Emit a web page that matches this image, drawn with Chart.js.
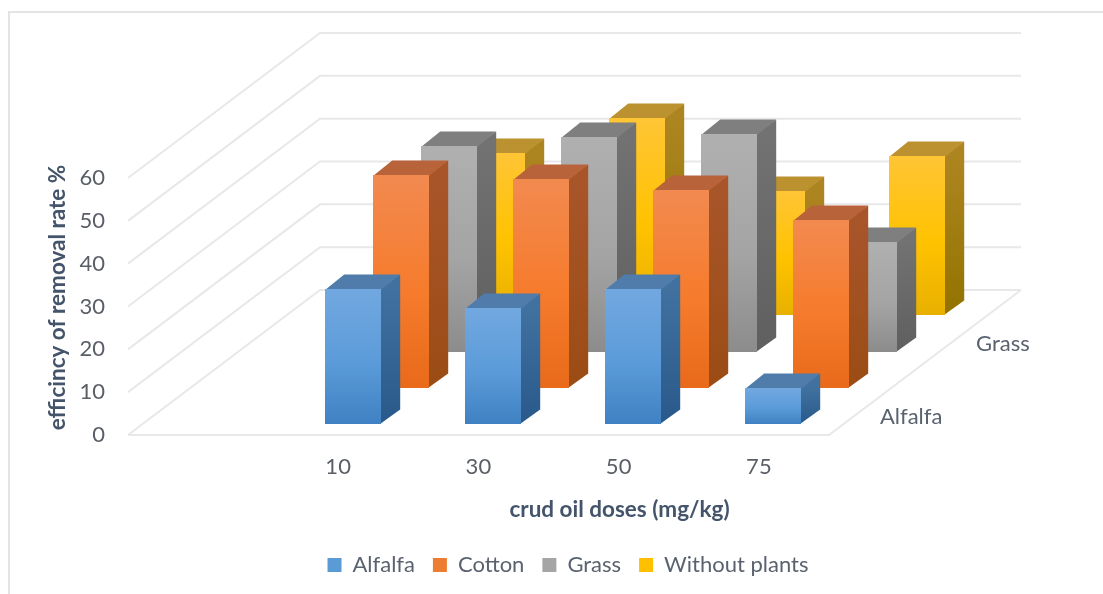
<!DOCTYPE html>
<html>
<head>
<meta charset="utf-8">
<style>html,body{margin:0;padding:0;background:#fff}canvas{display:block}</style>
<script src="https://cdn.jsdelivr.net/npm/chart.js@4"></script>
</head>
<body>
<canvas id="c" width="1103" height="594"></canvas>
<script>
const doses = ['10', '30', '50', '75'];
const alfalfa = [31.5, 27.1, 31.5, 8.4];
const cotton = [49.7, 48.8, 46.2, 39.2];
const grass = [47.9, 50, 50.7, 25.7];
const withoutPlants = [37.8, 46, 29, 37.1];
const depthLabels = ['Alfalfa', '', 'Grass', ''];
const yTicks = [0, 10, 20, 30, 40, 50, 60];

const FONT = 'Lato';
const DEPTH_X = 192, DEPTH_Y = 145, SERIES_COUNT = 4;
const WALL_LEFT = 128;

const palette = [
  {flat:'#5b9bd5', front:['#72a8e0','#5b9bd9','#3f81c2'], side:['#41719f','#28598a'], top:'#4f7cab'},
  {flat:'#ed7d31', front:['#f28a50','#f67b2c','#e86a1a'], side:['#a8552a','#9b4c14'], top:'#b9633a'},
  {flat:'#a5a5a5', front:['#b0b0b0','#a4a4a4','#8c8c8c'], side:['#727272','#5f5f5f'], top:'#7f7f7f'},
  {flat:'#ffc000', front:['#ffc535','#ffc200','#e8b000'], side:['#ad8520','#927300'], top:'#bc9130'}
];

const box3d = {
  id: 'box3d',
  afterLayout(chart) {
    const lg = chart.legend;
    lg.left += 137; lg.right += 137;
    lg.top -= 8; lg.bottom -= 8;
    const sx = chart.scales.x, sy = chart.scales.y;
    if (!sx._shifted) {
      sx._shifted = true;
      const ox = sx.drawTitle, oy = sy.drawTitle;
      sx.drawTitle = function () { const c = this.ctx; c.save(); c.translate(71, -21); ox.call(this); c.restore(); };
      sy.drawTitle = function () { const c = this.ctx; c.save(); c.translate(0, -9); oy.call(this); c.restore(); };
    }
  },
  beforeDatasetsDraw(chart) {
    const {ctx, scales:{y}, chartArea:a} = chart;
    // page frame
    ctx.save();
    ctx.strokeStyle = '#e4e4e4'; ctx.lineWidth = 2;
    ctx.beginPath(); ctx.moveTo(9, 594); ctx.lineTo(9, 12); ctx.lineTo(1103, 12); ctx.stroke();
    // walls
    ctx.strokeStyle = '#e8e8e8'; ctx.lineWidth = 2;
    const right = a.right + DEPTH_X;
    yTicks.forEach(v => {
      const py = y.getPixelForValue(v);
      ctx.beginPath();
      ctx.moveTo(WALL_LEFT, py);
      ctx.lineTo(WALL_LEFT + DEPTH_X, py - DEPTH_Y);
      ctx.lineTo(right, py - DEPTH_Y);
      ctx.stroke();
    });
    // floor
    const p0 = y.getPixelForValue(0);
    ctx.beginPath();
    ctx.moveTo(WALL_LEFT, p0); ctx.lineTo(a.right, p0); ctx.lineTo(right, p0 - DEPTH_Y);
    ctx.stroke();
    // depth axis labels
    ctx.fillStyle = '#5a6270';
    ctx.font = '22px ' + FONT;
    ctx.textAlign = 'left'; ctx.textBaseline = 'middle';
    depthLabels.forEach((t, i) => {
      if (!t) return;
      const f = (i + .5) / SERIES_COUNT;
      ctx.fillText(t, a.right + DEPTH_X * f + 27, p0 - DEPTH_Y * f);
    });
    ctx.restore();
  },
  beforeDatasetDraw(chart, args) {
    const {ctx} = chart;
    const i = args.index, col = palette[i];
    const f = (i + .3) / SERIES_COUNT;
    const ox = DEPTH_X * f, oy = -DEPTH_Y * f;
    const dx = DEPTH_X * .4 / SERIES_COUNT, dy = DEPTH_Y * .4 / SERIES_COUNT;
    args.meta.data.forEach(el => {
      const p = el.getProps(['x', 'y', 'base', 'width'], true);
      const l = Math.round(p.x - p.width / 2 + ox), r = Math.round(p.x + p.width / 2 + ox);
      const t = Math.round(p.y + oy), b = Math.round(p.base + oy);
      // side and top run a pixel under the front face so no seam shows
      let g = ctx.createLinearGradient(0, t, 0, b);
      g.addColorStop(0, col.side[0]); g.addColorStop(1, col.side[1]);
      ctx.fillStyle = g;
      ctx.beginPath();
      ctx.moveTo(r - 1, t); ctx.lineTo(r + dx, t - dy); ctx.lineTo(r + dx, b - dy); ctx.lineTo(r - 1, b);
      ctx.closePath(); ctx.fill();
      ctx.fillStyle = col.top;
      ctx.beginPath();
      ctx.moveTo(l, t + 1); ctx.lineTo(l + dx, t - dy); ctx.lineTo(r + dx, t - dy); ctx.lineTo(r, t + 1);
      ctx.closePath(); ctx.fill();
      g = ctx.createLinearGradient(0, t, 0, b);
      g.addColorStop(0, col.front[0]); g.addColorStop(.55, col.front[1]); g.addColorStop(1, col.front[2]);
      ctx.fillStyle = g; ctx.fillRect(l, t, r - l, b - t);
    });
    return false;
  }
};

const mk = (label, data, i) => ({
  label, data, grouped: false, barThickness: 56,
  backgroundColor: palette[i].flat, borderWidth: 0
});

new Chart(document.getElementById('c'), {
  type: 'bar',
  plugins: [box3d],
  data: {
    labels: doses,
    datasets: [
      mk('Alfalfa', alfalfa, 0),
      mk('Cotton', cotton, 1),
      mk('Grass', grass, 2),
      mk('Without plants', withoutPlants, 3)
    ]
  },
  options: {
    responsive: false,
    animation: false,
    devicePixelRatio: 1,
    layout: {padding: {left: 33, right: 274, top: 178, bottom: 0}},
    scales: {
      x: {
        afterFit: s => { s.height = 594 - 435 - s.chart.legend.height; },
        grid: {display: false, drawTicks: false}, border: {display: false},
        ticks: {color: '#5a5f66', font: {family: FONT, size: 22}, padding: 19, maxRotation: 0},
        title: {display: true, text: 'crud oil doses (mg/kg)', color: '#44546a',
                font: {family: FONT, size: 22.5, weight: 'bold'}, padding: {top: 0, bottom: 0}}
      },
      y: {
        min: 0, max: 60,
        afterFit: s => { s.width = 235; s.paddingTop = 0; s.paddingBottom = 0; },
        grid: {display: false, drawTicks: false}, border: {display: false},
        ticks: {color: '#5a5f66', stepSize: 10, font: {family: FONT, size: 22}, padding: 163},
        title: {display: true, text: 'efficincy of removal rate %', color: '#44546a',
                font: {family: FONT, size: 22.5, weight: 'bold'}, padding: {top: 11, bottom: 0}}
      }
    },
    plugins: {
      tooltip: {enabled: false},
      legend: {
        position: 'bottom',
        labels: {
          color: '#5a6270', font: {family: FONT, size: 22},
          boxWidth: 14, boxHeight: 14, padding: 18
        }
      }
    }
  }
});
</script>
</body>
</html>
